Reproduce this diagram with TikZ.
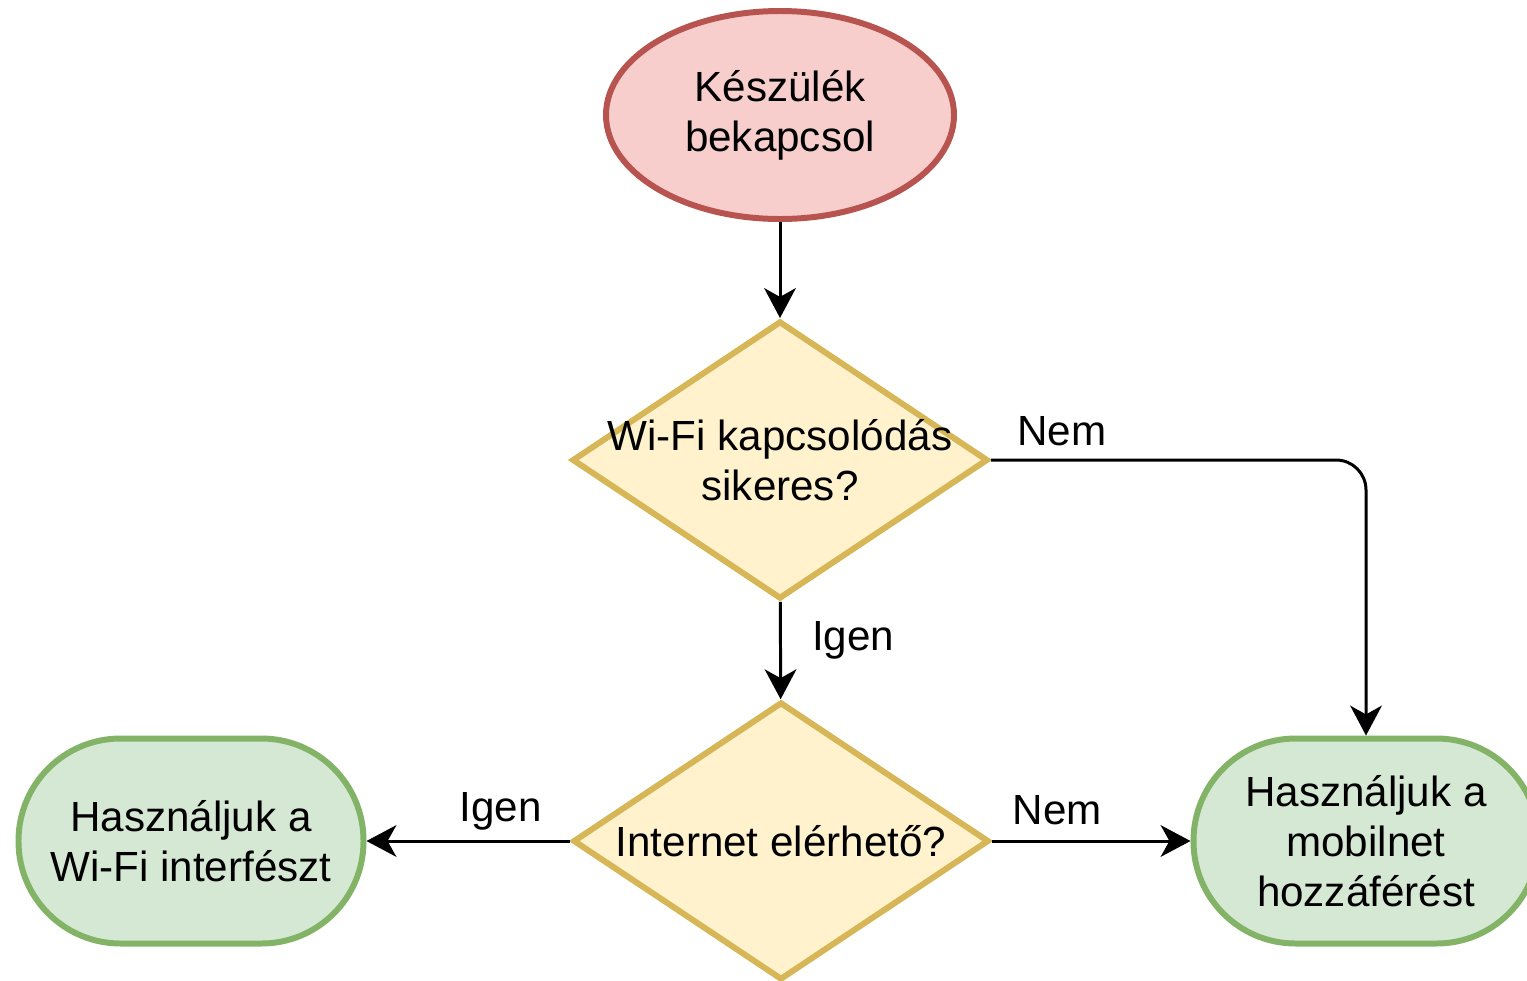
\documentclass[tikz,border=0pt]{standalone}
\usepackage{fontspec}
\setmainfont{Liberation Sans}
\usetikzlibrary{shapes.geometric, arrows.meta}

\definecolor{redfill}{HTML}{F8CECC}
\definecolor{redline}{HTML}{B85450}
\definecolor{yellowfill}{HTML}{FFF2CC}
\definecolor{yellowline}{HTML}{D6B656}
\definecolor{greenfill}{HTML}{D5E8D4}
\definecolor{greenline}{HTML}{82B366}

\tikzset{
	txt/.style={font=\fontsize{12pt}{14.2pt}\selectfont, align=center, inner sep=0pt},
	startnode/.style={txt, ellipse, fill=redfill, draw=redline, line width=1.7pt,
		minimum width=3.48cm, minimum height=2.08cm},
	decision/.style={diamond, fill=yellowfill, draw=yellowline, line width=1.7pt,
		inner sep=0pt, minimum width=4.16cm, minimum height=2.78cm},
	endnode/.style={txt, rectangle, rounded corners=1.02cm, fill=greenfill, draw=greenline,
		line width=1.7pt, minimum width=3.45cm, minimum height=2.05cm},
	arr/.style={-{Stealth[length=8.5pt,width=9pt,inset=2.5pt]}, line width=0.85pt}
}

\begin{document}
\begin{tikzpicture}
			\useasboundingbox (0,0) rectangle (15.27,9.80);
			\node[startnode] (start) at (7.80,8.65) {Készülék\\bekapcsol};
			\node[decision, label={[txt]center:Wi-Fi kapcsolódás\\sikeres?}] (wifi) at (7.80,5.20) {};
			\node[decision, label={[txt]center:Internet elérhető?}] (inet) at (7.81,1.39) {};
			\node[endnode] (wifiuse) at (1.91,1.39) {Használjuk a\\Wi-Fi interfészt};
			\node[endnode] (mobile) at (13.66,1.39) {Használjuk a\\mobilnet\\hozzáférést};
			\draw[arr] (start) -- (wifi);
			\draw[arr, rounded corners=0.3cm] (wifi.east) node[txt, anchor=south west, xshift=0.25cm, yshift=0.13cm] {Nem} -| (mobile.north);
			\draw[arr] (wifi) -- node[txt, right, xshift=0.3cm, yshift=0.1cm] {Igen} (inet);
			\draw[arr] (inet) -- node[txt, above, pos=0.34, yshift=0.09cm] {Igen} (wifiuse);
			\draw[arr] (inet) -- node[txt, above, pos=0.33, yshift=0.15cm] {Nem} (mobile);
		\end{tikzpicture}
\end{document}
